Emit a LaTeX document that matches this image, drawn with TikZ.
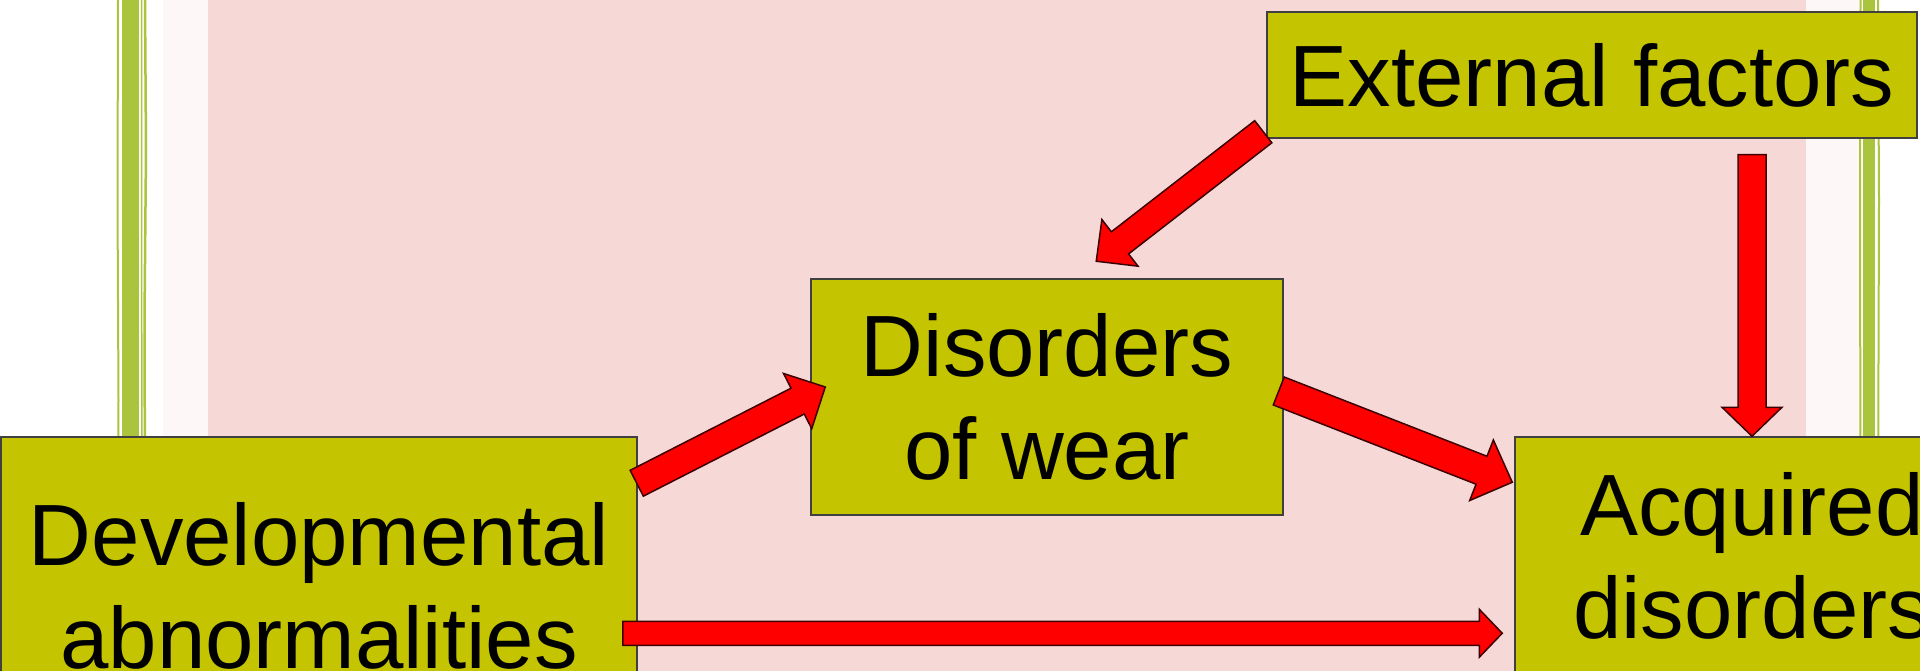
\documentclass[tikz,border=0pt]{standalone}
\usepackage{fontspec}
\setmainfont{Liberation Sans}
\usetikzlibrary{calc}
\definecolor{boxfill}{RGB}{196,196,0}
\definecolor{pinkbg}{RGB}{246,216,215}
\definecolor{pinklight}{RGB}{253,248,247}
\definecolor{bargreen}{RGB}{170,196,62}
\definecolor{arrred}{RGB}{255,0,0}
\tikzset{
  boxnode/.style={draw=black!75, line width=1.5pt, fill=boxfill, inner sep=0pt,
    align=center, font=\fontsize{87}{103}\selectfont},
  blockarr/.style={fill=arrred, draw=black!60!red!60!black, line width=1.5pt, line join=miter},
  barline/.style={draw=bargreen, line cap=round},
}
% #1 tail, #2 tip, #3 shaft half width, #4 head half width, #5 head length
\newcommand\blockarrow[5]{%
  \coordinate (ba-b) at ($(#2)!#5!(#1)$);
  \filldraw[blockarr] ($(#1)!#3!90:(#2)$) -- ($(ba-b)!#3!-90:(#1)$) -- ($(ba-b)!#4!-90:(#1)$)
    -- (#2) -- ($(ba-b)!#4!90:(#1)$) -- ($(ba-b)!#3!90:(#1)$) -- ($(#1)!#3!-90:(#2)$) -- cycle;
}
\begin{document}
\begin{tikzpicture}[x=1pt,y=-1pt]
\useasboundingbox (0,0) rectangle (1920,671);
\begin{scope}
\clip (0,0) rectangle (1920,671);
% background
\fill[white] (0,0) rectangle (1920,671);
\fill[pinklight] (163,0) rectangle (1860,671);
\fill[pinkbg] (208,0) rectangle (1806,671);
% left green bar
\fill[bargreen] (122,0) rectangle (139,671);
\draw[barline, line width=2pt] (118,0) -- (117.5,200) -- (118.5,400) -- (118,671);
\draw[barline, line width=2.5pt] (145,0) -- (146,150) -- (144.5,320) -- (145.5,671);
\draw[barline, line width=1.5pt] (141.5,0) -- (142,671);
% right green bar
\fill[bargreen] (1863,0) rectangle (1875,671);
\draw[barline, line width=2pt] (1860.5,0) -- (1860,250) -- (1861,671);
\draw[barline, line width=2pt] (1878,0) -- (1879,200) -- (1877.5,671);
% boxes
\node[boxnode, minimum width=650pt, minimum height=126pt] (ext) at (1592,75) {External factors};
\node[boxnode, minimum width=472pt, minimum height=236pt] (wear) at (1047,397) {Disorders\\of wear};
\node[boxnode, minimum width=636pt, minimum height=298pt] (dev) at (319,586) {Developmental\\abnormalities};
\node[boxnode, minimum width=474pt, minimum height=238pt] (acq) at (1752,556) {Acquired\\disorders};
% connector end points
\coordinate (t1) at ($(ext.south west)+(-3,-7)$);
\coordinate (h1) at ($(wear.north west)+(286,-17)$);
\coordinate (t2) at ($(dev.north east)+(-1,47)$);
\coordinate (h2) at ($(wear.west)+(15,-10)$);
\coordinate (t3) at ($(wear.east)+(-5,-6)$);
\coordinate (h3) at ($(acq.north west)+(-2,46)$);
\coordinate (t4) at ($(acq.north |- ext.south)+(0,16)$);
\coordinate (h4) at (acq.north);
\coordinate (t5) at ($(dev.north east)+(-15,197)$);
\coordinate (h5) at ($(acq.west |- t5)+(-12,0)$);
% arrows
\blockarrow{t1}{h1}{14pt}{29.5pt}{30pt}
\blockarrow{t2}{h2}{14.5pt}{31pt}{31pt}
\blockarrow{t3}{h3}{15pt}{32.5pt}{33pt}
\blockarrow{t4}{h4}{14pt}{30pt}{29pt}
\blockarrow{t5}{h5}{12pt}{24pt}{23pt}
\end{scope}
\end{tikzpicture}
\end{document}
